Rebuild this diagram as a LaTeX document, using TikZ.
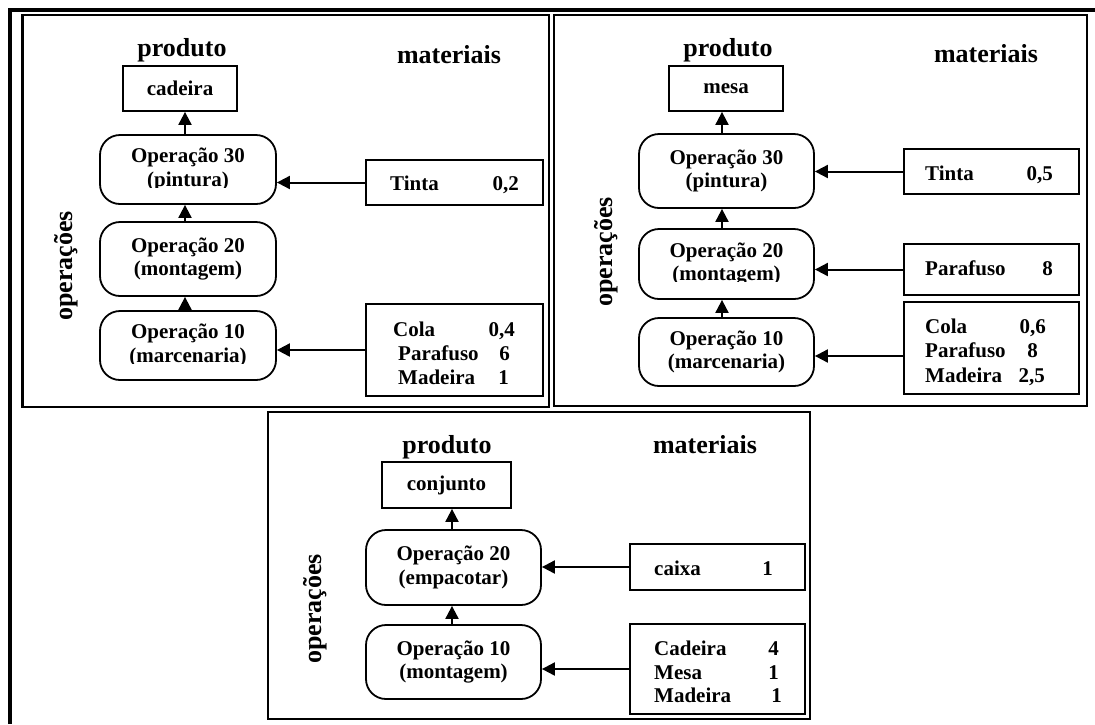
\documentclass[tikz,border=0pt]{standalone}
\usepackage{fontspec}
\setmainfont{Liberation Serif}
\usetikzlibrary{arrows.meta,calc}
\tikzset{
  panel/.style={draw, line width=2.5pt},
  prodbox/.style={draw, line width=1.8pt, inner sep=0pt, font=\fontsize{21}{23.5}\selectfont\bfseries},
  opbox/.style={draw, line width=1.8pt, rounded corners=20pt, align=center, inner sep=0pt, font=\fontsize{21}{23.5}\selectfont\bfseries},
  matbox/.style={draw, line width=1.8pt, inner sep=0pt},
  mtxt/.style={inner sep=0pt, font=\fontsize{21}{23.5}\selectfont\bfseries},
  head/.style={inner sep=0pt, anchor=base, font=\fontsize{26}{28}\selectfont\bfseries},
  vhead/.style={inner sep=0pt, anchor=center, rotate=90, font=\fontsize{26}{28}\selectfont\bfseries},
  arr/.style={line width=2pt, -{Triangle[length=13pt,width=13pt]}},
  cut/.style={fill=white, draw=none},
}
\begin{document}
\begin{tikzpicture}[x=1pt,y=-1pt]
\useasboundingbox (0,0) rectangle (1095,724);
% outer frame
\draw[line width=4.5pt, line join=miter] (10,724) -- (10,10) -- (1095,10);

% ================= panel 1 =================
\draw[panel] (22.5,15) rectangle (549,407);
\node[head] (p1hp) at (182,56) {produto};
\node[head] (p1hm) at (449,63) {materiais};
\node[vhead] (p1hv) at (66,266) {operações};
\node[prodbox, minimum width=114pt, minimum height=45pt] (p1p) at (180,88.5) {cadeira};
\node[opbox, minimum width=176pt, minimum height=69pt] (p1o3) at (188,169.5) {Operação 30\\(pintura)};
\node[opbox, minimum width=176pt, minimum height=74pt] (p1o2) at (188,259) {Operação 20\\(montagem)};
\node[opbox, minimum width=176pt, minimum height=69pt] (p1o1) at (188,345.5) {Operação 10\\(marcenaria)};
\fill[cut] ($(p1o3.base)+(-62,1.2)$) rectangle ($(p1o3.base)+(62,9)$);
\fill[cut] ($(p1o1.base)+(-67,1.2)$) rectangle ($(p1o1.base)+(67,9)$);
\node[matbox, minimum width=177pt, minimum height=45pt] (p1t) at (454.5,182.5) {};
\node[mtxt, anchor=base west] (p1t1) at (390,190) {Tinta};
\node[mtxt, anchor=base east] (p1t2) at (519,190) {0,2};
\node[matbox, minimum width=177pt, minimum height=92pt] (p1m) at (454.5,350) {};
\node[mtxt, anchor=base west] (p1m1) at (393,336) {Cola};
\node[mtxt, anchor=base east] (p1m2) at (515,336) {0,4};
\node[mtxt, anchor=base west] (p1m3) at (398,360) {Parafuso};
\node[mtxt, anchor=base east] (p1m4) at (510,360) {6};
\node[mtxt, anchor=base west] (p1m5) at (398,384) {Madeira};
\node[mtxt, anchor=base east] (p1m6) at (509,384) {1};
\coordinate (p1x) at (185,0);
\draw[arr] (p1o3.north -| p1x) -- (p1p.south -| p1x);
\draw[arr] (p1o2.north -| p1x) -- (p1o3.south -| p1x);
\draw[arr] (p1o1.north -| p1x) -- (p1o2.south -| p1x);
\draw[arr] (p1t.west) -- (p1t.west -| p1o3.east);
\draw[arr] (p1m.west) -- (p1m.west -| p1o1.east);

% ================= panel 2 =================
\draw[panel] (554,15) rectangle (1087,406);
\node[head] (p2hp) at (728,56) {produto};
\node[head] (p2hm) at (986,62) {materiais};
\node[vhead] (p2hv) at (606,252) {operações};
\node[prodbox, minimum width=114pt, minimum height=45pt] (p2p) at (726,88.5) {mesa};
\node[opbox, minimum width=175pt, minimum height=74pt] (p2o3) at (726.5,171) {Operação 30\\(pintura)};
\node[opbox, minimum width=175pt, minimum height=70pt] (p2o2) at (726.5,264) {Operação 20\\(montagem)};
\node[opbox, minimum width=175pt, minimum height=68pt] (p2o1) at (726.5,352) {Operação 10\\(marcenaria)};
\fill[cut] ($(p2o2.base)+(-63,1.2)$) rectangle ($(p2o2.base)+(63,9)$);
\node[matbox, minimum width=175pt, minimum height=45pt] (p2t) at (991.5,171.5) {};
\node[mtxt, anchor=base west] (p2t1) at (925,180) {Tinta};
\node[mtxt, anchor=base east] (p2t2) at (1053,180) {0,5};
\node[matbox, minimum width=175pt, minimum height=51pt] (p2f) at (991.5,269.5) {};
\node[mtxt, anchor=base west] (p2f1) at (925,275) {Parafuso};
\node[mtxt, anchor=base east] (p2f2) at (1053,275) {8};
\node[matbox, minimum width=175pt, minimum height=92pt] (p2m) at (991.5,348) {};
\node[mtxt, anchor=base west] (p2m1) at (925,333) {Cola};
\node[mtxt, anchor=base east] (p2m2) at (1046,333) {0,6};
\node[mtxt, anchor=base west] (p2m3) at (925,357) {Parafuso};
\node[mtxt, anchor=base east] (p2m4) at (1038,357) {8};
\node[mtxt, anchor=base west] (p2m5) at (925,382) {Madeira};
\node[mtxt, anchor=base east] (p2m6) at (1045,382) {2,5};
\coordinate (p2x) at (722,0);
\coordinate (p2y) at (0,356);
\draw[arr] (p2o3.north -| p2x) -- (p2p.south -| p2x);
\draw[arr] (p2o2.north -| p2x) -- (p2o3.south -| p2x);
\draw[arr] (p2o1.north -| p2x) -- (p2o2.south -| p2x);
\draw[arr] (p2t.west) -- (p2t.west -| p2o3.east);
\draw[arr] (p2f.west) -- (p2f.west -| p2o2.east);
\draw[arr] (p2m.west |- p2y) -- (p2o1.east |- p2y);

% ================= panel 3 =================
\draw[panel] (268,412) rectangle (810,719);
\node[head] (p3hp) at (447,453) {produto};
\node[head] (p3hm) at (705,453) {materiais};
\node[vhead] (p3hv) at (315,609) {operações};
\node[prodbox, minimum width=129pt, minimum height=46pt] (p3p) at (446.5,485) {conjunto};
\node[opbox, minimum width=175pt, minimum height=75pt] (p3o2) at (453.5,567.5) {Operação 20\\(empacotar)};
\node[opbox, minimum width=175pt, minimum height=74pt] (p3o1) at (453.5,662) {Operação 10\\(montagem)};
\node[matbox, minimum width=175pt, minimum height=46pt] (p3c) at (717.5,567) {};
\node[mtxt, anchor=base west] (p3c1) at (654,575) {caixa};
\node[mtxt, anchor=base east] (p3c2) at (773,575) {1};
\node[matbox, minimum width=175pt, minimum height=90pt] (p3m) at (717.5,669) {};
\node[mtxt, anchor=base west] (p3m1) at (654,655) {Cadeira};
\node[mtxt, anchor=base east] (p3m2) at (779,655) {4};
\node[mtxt, anchor=base west] (p3m3) at (654,679) {Mesa};
\node[mtxt, anchor=base east] (p3m4) at (779,679) {1};
\node[mtxt, anchor=base west] (p3m5) at (654,702) {Madeira};
\node[mtxt, anchor=base east] (p3m6) at (782,702) {1};
\coordinate (p3x) at (452,0);
\draw[arr] (p3o2.north -| p3x) -- (p3p.south -| p3x);
\draw[arr] (p3o1.north -| p3x) -- (p3o2.south -| p3x);
\draw[arr] (p3c.west) -- (p3c.west -| p3o2.east);
\draw[arr] (p3m.west) -- (p3m.west -| p3o1.east);
\end{tikzpicture}
\end{document}
